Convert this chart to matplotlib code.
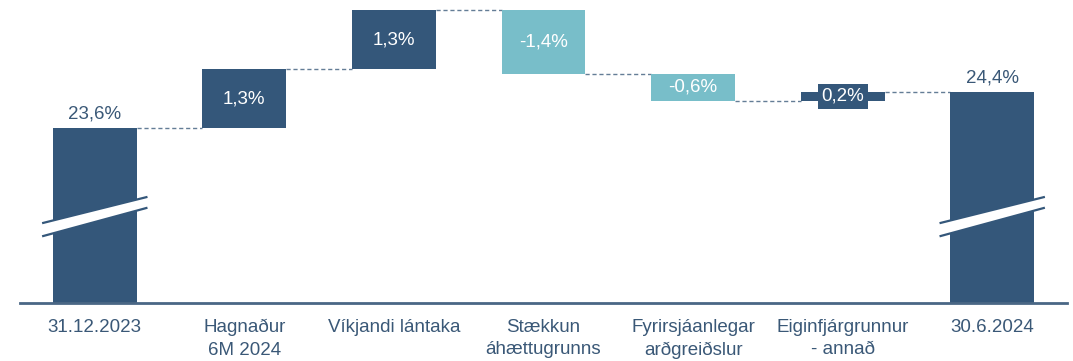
import numpy as np
import matplotlib.pyplot as plt
from matplotlib.patches import Polygon

plt.rcParams['font.family'] = ['Liberation Sans', 'DejaVu Sans']

categories = ['31.12.2023', 'Hagnaður\n6M 2024', 'Víkjandi lántaka', 'Stækkun\náhættugrunns',
              'Fyrirsjáanlegar\narðgreiðslur', 'Eiginfjárgrunnur\n- annað', '30.6.2024']
start_value = 23.6
changes = [1.3, 1.3, -1.4, -0.6, 0.2]
end_value = 24.4

dark = '#34577A'
teal = '#78BEC9'
txt = '#3A5877'
y_floor = 19.74
fs = 13.5

fig = plt.figure(figsize=(10.73, 3.61), dpi=100)
ax = fig.add_axes([20/1073, 58.5/361, 1047/1073, 302.5/361])
ax.set_xlim(-0.5, 6.5)
ax.set_ylim(y_floor, 26.43)

w = 0.56
x = np.arange(len(categories))

# totals at both ends
for xi, val in [(x[0], start_value), (x[-1], end_value)]:
    ax.bar(xi, val - y_floor, bottom=y_floor, width=w, color=dark, zorder=2)
    ax.text(xi, val + 0.12, f'{val:.1f}%'.replace('.', ','), ha='center', va='bottom',
            fontsize=fs, color=txt)
    # axis break marker
    band = Polygon([(xi - 0.345, 21.21), (xi + 0.345, 21.83), (xi + 0.345, 22.07), (xi - 0.345, 21.5)],
                   closed=True, facecolor='white', edgecolor='none', zorder=3)
    ax.add_patch(band)
    ax.plot([xi - 0.345, xi + 0.345], [21.5, 22.07], color=dark, lw=1.6, zorder=4)
    ax.plot([xi - 0.345, xi + 0.345], [21.21, 21.83], color=dark, lw=1.6, zorder=4)

# change bars
level = start_value
levels = [level]
for i, c in enumerate(changes):
    xi = x[i + 1]
    col = dark if c > 0 else teal
    ax.bar(xi, c, bottom=level, width=w, color=col, zorder=2)
    lab = f'{c:.1f}%'.replace('.', ',')
    if abs(c) < 0.3:
        ax.text(xi, level + c / 2, lab, ha='center', va='center', fontsize=fs, color='white',
                zorder=5, bbox=dict(boxstyle='square,pad=0.2', facecolor=dark, edgecolor='none'))
    else:
        ax.text(xi, level + c / 2, lab, ha='center', va='center', fontsize=fs, color='white', zorder=5)
    level += c
    levels.append(level)

# dashed connectors between bars
for i, lv in enumerate(levels):
    ax.plot([x[i] + w / 2, x[i + 1] - w / 2], [lv, lv], color='#647D96', lw=1.0,
            ls=(0, (3, 2)), zorder=1)

for s in ['top', 'right', 'left']:
    ax.spines[s].set_visible(False)
ax.spines['bottom'].set_color('#4A6785')
ax.spines['bottom'].set_linewidth(2)
ax.set_yticks([])
ax.set_xticks(x)
ax.set_xticklabels(categories, fontsize=fs, color=txt, linespacing=1.4)
ax.tick_params(axis='x', length=0, pad=12)

fig.savefig('out.png', dpi=100)
